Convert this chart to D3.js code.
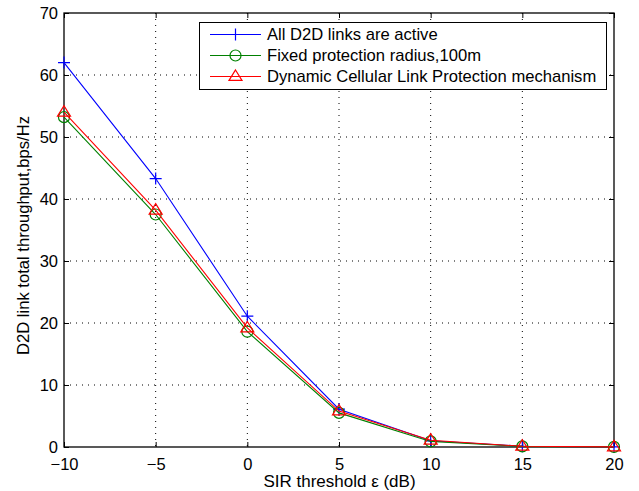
<!DOCTYPE html>
<html><head><meta charset="utf-8">
<script src="https://cdn.jsdelivr.net/npm/d3@7"></script>
<style>body{margin:0;background:#fff}svg{display:block}text{font-family:"Liberation Sans",Arial,sans-serif}</style>
</head><body>
<svg id="c" width="639" height="491"></svg>
<script>
const sir = [-10, -5, 0, 5, 10, 15, 20];
const allActive = [62.0, 43.3, 21.1, 6.1, 1.0, 0.12, 0.02];
const fixedRadius = [53.2, 37.5, 18.6, 5.5, 0.9, 0.1, 0.02];
const dynamicProt = [54.0, 38.2, 19.2, 5.8, 1.1, 0.12, 0.02];
const xTicks = [-10, -5, 0, 5, 10, 15, 20];
const yTicks = [0, 10, 20, 30, 40, 50, 60, 70];
const seriesNames = ["All D2D links are active", "Fixed protection radius,100m", "Dynamic Cellular Link Protection mechanism"];
const seriesColors = ["#0000ff", "#008000", "#ff0000"];
const seriesMarkers = ["plus", "circle", "triangle"];

const svg = d3.select("#c");
const L = 64, R = 614, T = 13, B = 447;
const x = d3.scaleLinear().domain([-10, 20]).range([L, R]);
const y = d3.scaleLinear().domain([0, 70]).range([B, T]);
const FONT = '"Liberation Sans",Arial,sans-serif';

// grid
const g = svg.append("g");
xTicks.forEach(v => { if (v > -10 && v < 20) g.append("line").attr("x1", x(v)).attr("x2", x(v)).attr("y1", T).attr("y2", B).attr("stroke", "#000").attr("stroke-width", 1).attr("stroke-dasharray", "1,5"); });
yTicks.forEach(v => { if (v > 0 && v < 70) g.append("line").attr("x1", L).attr("x2", R).attr("y1", y(v)).attr("y2", y(v)).attr("stroke", "#000").attr("stroke-width", 1).attr("stroke-dasharray", "1,5"); });

// axes
const fs = "16.5px";
const xa = svg.append("g").attr("transform", `translate(0,${B})`).call(d3.axisBottom(x).tickValues(xTicks).tickSizeInner(-5).tickSizeOuter(0).tickFormat(d => d < 0 ? "\u2212" + Math.abs(d) : d));
xa.selectAll("text").attr("y", 22.5).attr("dy", 0);
const xt = svg.append("g").attr("transform", `translate(0,${T})`).call(d3.axisTop(x).tickValues(xTicks).tickSizeInner(-5).tickSizeOuter(0).tickFormat(""));
const ya = svg.append("g").attr("transform", `translate(${L},0)`).call(d3.axisLeft(y).tickValues(yTicks).tickSizeInner(-5).tickSizeOuter(0));
ya.selectAll("text").attr("x", -6).attr("dy", "0.34em");
const yr = svg.append("g").attr("transform", `translate(${R},0)`).call(d3.axisRight(y).tickValues(yTicks).tickSizeInner(-5).tickSizeOuter(0).tickFormat(""));
[xa, xt, ya, yr].forEach(a => { a.select(".domain").remove(); a.selectAll("line").attr("stroke", "#000"); a.selectAll("text").attr("fill", "#000").style("font-size", fs).style("font-family", FONT); });
svg.append("rect").attr("x", L).attr("y", T).attr("width", R - L).attr("height", B - T).attr("fill", "none").attr("stroke", "#000").attr("stroke-width", 1.3);

// labels
svg.append("text").attr("x", (L + R) / 2 + 0.5).attr("y", 487).attr("text-anchor", "middle").style("font-size", "17px").text("SIR threshold \u03b5 (dB)");
svg.append("text").attr("transform", `translate(28.5,235.5) rotate(-90)`).attr("text-anchor", "middle").style("font-size", "16.6px").text("D2D link total throughput,bps/Hz");

function marker(sel, type, color, cx, cy) {
  if (type === "plus") {
    sel.append("path").attr("d", `M${cx - 6},${cy}H${cx + 6}M${cx},${cy - 6}V${cy + 6}`).attr("stroke", color).attr("stroke-width", 1.2).attr("fill", "none");
  } else if (type === "circle") {
    sel.append("circle").attr("cx", cx).attr("cy", cy).attr("r", 5.5).attr("stroke", color).attr("stroke-width", 1.2).attr("fill", "none");
  } else {
    const s = 6.5;
    sel.append("path").attr("d", `M${cx},${cy - s}L${cx + s},${cy + s * 0.6}L${cx - s},${cy + s * 0.6}Z`).attr("stroke", color).attr("stroke-width", 1.2).attr("fill", "none");
  }
}

const data = [allActive, fixedRadius, dynamicProt];
const line = d3.line().x((d, i) => x(sir[i])).y(d => y(d));
[0, 1, 2].forEach(k => {
  const gg = svg.append("g");
  gg.append("path").datum(data[k]).attr("d", line).attr("fill", "none").attr("stroke", seriesColors[k]).attr("stroke-width", 1.1);
  data[k].forEach((v, i) => marker(gg, seriesMarkers[k], seriesColors[k], x(sir[i]), y(v)));
});

// legend
const lg = svg.append("g");
lg.append("rect").attr("x", 199.5).attr("y", 22.5).attr("width", 407).attr("height", 67).attr("fill", "#fff").attr("stroke", "#000").attr("stroke-width", 1);
const rowsY = [34.5, 55.5, 76.5];
seriesNames.forEach((n, k) => {
  lg.append("line").attr("x1", 210).attr("x2", 261).attr("y1", rowsY[k]).attr("y2", rowsY[k]).attr("stroke", seriesColors[k]).attr("stroke-width", 1.1);
  marker(lg, seriesMarkers[k], seriesColors[k], 235.5, rowsY[k]);
  lg.append("text").attr("x", 267).attr("y", rowsY[k] + 5.8).style("font-size", "16.6px").text(n);
});
</script>
</body></html>
